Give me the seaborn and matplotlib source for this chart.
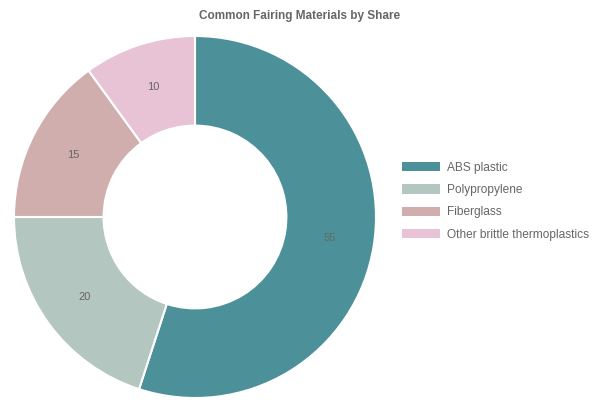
"""
Donut chart - common fairing materials by share.
"""
import matplotlib
matplotlib.use('Agg')
import matplotlib.pyplot as plt
from matplotlib.patches import Patch
import numpy as np
import seaborn as sns

# data
materials = ['ABS plastic', 'Polypropylene', 'Fiberglass', 'Other brittle thermoplastics']
shares = [55, 20, 15, 10]
colors = ['#4c9199', '#b3c6bf', '#d0aeae', '#e8c2d5']

sns.set_theme(style='white')
plt.rcParams['font.family'] = ['Liberation Sans', 'DejaVu Sans']

fig = plt.figure(figsize=(6, 4), dpi=100)
# square axes in pixels: 362 x 362, centred at (195, 217)
ax = fig.add_axes([14 / 600, 2 / 400, 362 / 600, 362 / 400])

ring = 0.495
wedges, texts = ax.pie(
    shares, colors=colors, startangle=90, counterclock=False,
    radius=1.0, wedgeprops=dict(width=ring, edgecolor='white', linewidth=1.5),
)
for w, v in zip(wedges, shares):
    ang = np.deg2rad((w.theta1 + w.theta2) / 2)
    r = 1 - ring / 2
    ax.text(r * np.cos(ang), r * np.sin(ang), str(v), ha='center', va='center',
            fontsize=8, color='#666666')
ax.set_xlim(-1, 1)
ax.set_ylim(-1, 1)
ax.set_aspect('equal')
ax.axis('off')

fig.text(0.5, 1 - 16 / 400, 'Common Fairing Materials by Share', ha='center', va='center',
         fontsize=8.5, fontweight='bold', color='#666666')

handles = [Patch(facecolor=c, edgecolor='none') for c in colors]
fig.legend(handles, materials, loc='center left', bbox_to_anchor=(0.652, 0.497),
           frameon=False, fontsize=8.6, handlelength=3.19, handleheight=0.84,
           handletextpad=0.59, labelspacing=0.87, labelcolor='#666666')

plt.savefig('out.png', dpi=100)
plt.close()
